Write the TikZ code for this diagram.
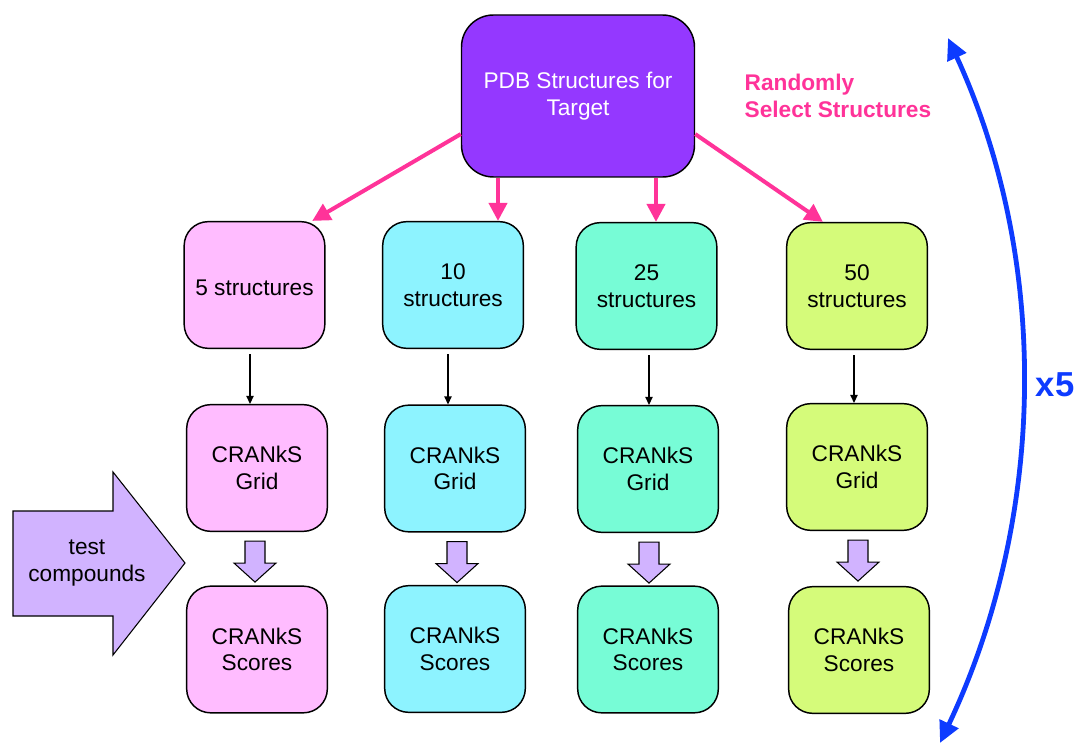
\documentclass[tikz,border=0pt]{standalone}
\usepackage{fontspec}
\setmainfont{Liberation Sans}
\usetikzlibrary{arrows.meta,calc}

\definecolor{targetfill}{HTML}{9438FF}
\definecolor{pinkfill}{HTML}{FFBCFF}
\definecolor{cyanfill}{HTML}{8DF3FF}
\definecolor{tealfill}{HTML}{77FCD6}
\definecolor{limefill}{HTML}{D5FB7A}
\definecolor{lavfill}{HTML}{D1B3FF}
\definecolor{hotpink}{HTML}{FF3399}
\definecolor{repeatblue}{HTML}{0D3BFF}

\tikzset{
  txt/.style={font=\fontsize{17}{20}\selectfont, align=center},
  % a taller first line sits the text a little below the middle
  lowered/.style={execute at begin node={\rule{0pt}{16.5pt}}},
  box/.style={txt, lowered, draw=black, line width=1.1pt, rounded corners=18pt,
    minimum width=105.5pt, minimum height=95pt, inner sep=2pt},
  targetbox/.style={txt, lowered, draw=black, line width=1.1pt, rounded corners=24pt,
    minimum width=174.75pt, minimum height=121.5pt, fill=targetfill, text=white},
  pickarrow/.style={draw=hotpink, line width=3pt,
    -{Triangle[length=13.5pt,width=13.5pt]}},
  flow/.style={draw=black, line width=0.9pt,
    -{Triangle[length=6pt,width=5.5pt]}},
  hollow/.style={draw=black, line width=0.8pt, fill=lavfill, line join=miter},
  repeatarc/.style={draw=repeatblue, line width=3.6pt,
    {Triangle[length=16pt,width=15pt]}-{Triangle[length=16pt,width=15pt]}},
}

% hollow down arrow hanging below a node
\newcommand{\downblock}[1]{%
  \begin{scope}[shift={(#1)}]
    \path[hollow] (-10,9) -- (10,9) -- (10,31) -- (21,31) -- (0,50)
      -- (-21,31) -- (-10,31) -- cycle;
  \end{scope}}

\begin{document}
\begin{tikzpicture}[x=0.75pt,y=-0.75pt]
\useasboundingbox (0,0) rectangle (1078,748);

% source of structures
\node[targetbox] (top) at (578,96) {PDB Structures for\\Target};
\node[txt, font=\fontsize{17}{20}\selectfont\bfseries, text=hotpink,
  align=left, anchor=west] (sel) at (740,96) {Randomly\\Select Structures};

% structure subsets
\node[box, fill=pinkfill] (s1) at (254.5,285) {5 structures};
\node[box, fill=cyanfill] (s2) at (453,285) {10\\structures};
\node[box, fill=tealfill] (s3) at (646.5,286) {25\\structures};
\node[box, fill=limefill] (s4) at (857,286) {50\\structures};

% grids
\node[box, fill=pinkfill] (g1) at (257,468) {CRANkS\\Grid};
\node[box, fill=cyanfill] (g2) at (455,468.5) {CRANkS\\Grid};
\node[box, fill=tealfill] (g3) at (648,469) {CRANkS\\Grid};
\node[box, fill=limefill] (g4) at (857,467) {CRANkS\\Grid};

% scores
\node[box, fill=pinkfill] (r1) at (257,649.5) {CRANkS\\Scores};
\node[box, fill=cyanfill] (r2) at (455,649) {CRANkS\\Scores};
\node[box, fill=tealfill] (r3) at (648,649.5) {CRANkS\\Scores};
\node[box, fill=limefill] (r4) at (859,650) {CRANkS\\Scores};

% random selection arrows
\draw[pickarrow] (top.-162) -- (s1.48);
\draw[pickarrow] ($(top.south)+(-80,0)$) -- ($(s2.north)+(45,0)$);
\draw[pickarrow] ($(top.south)+(78,0)$) -- ($(s3.north)+(9.5,0)$);
\draw[pickarrow] (top.-18) -- (s4.118);

% subsets feed grids
\draw[flow] ($(s1.south)+(-4.5,5)$) -- ($(g1.north)+(-7,0)$);
\draw[flow] ($(s2.south)+(-5,5)$) -- ($(g2.north)+(-7,0)$);
\draw[flow] ($(s3.south)+(2.5,5)$) -- ($(g3.north)+(1,0)$);
\draw[flow] ($(s4.south)+(-3,5)$) -- ($(g4.north)+(-3,0)$);

% grids to scores
\downblock{$(g1.south)+(-2,0)$}
\downblock{$(g2.south)+(2,0)$}
\downblock{$(g3.south)+(1,0)$}
\downblock{$(g4.south)+(1,0)$}

% test compounds block arrow
\path[hollow] (13,511) -- (113,511) -- (113,472) -- (185,563) -- (113,655)
  -- (113,616) -- (13,616) -- cycle;
\node[txt, lowered] (tc) at (87,563) {test\\compounds};

% repetition
\coordinate (arcTop) at (948,38);
\coordinate (arcBot) at (940,743);
\draw[repeatarc] (arcTop) .. controls (1051,262) and (1046,519) .. (arcBot);
\node[font=\fontsize{26}{30}\selectfont\bfseries, text=repeatblue] (rep) at (1055,385) {x5};
\end{tikzpicture}
\end{document}
